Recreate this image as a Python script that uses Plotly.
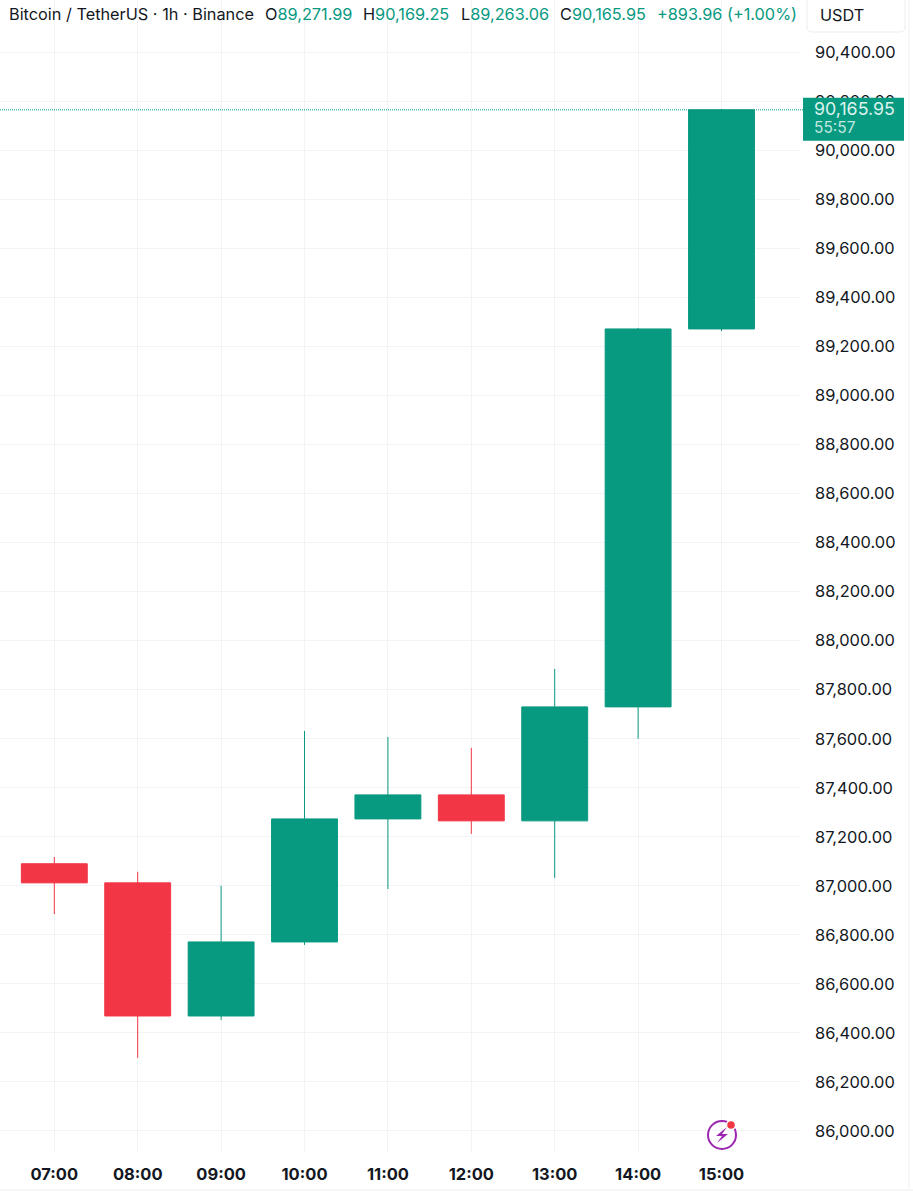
import plotly.graph_objects as go

HOURS = ['07:00', '08:00', '09:00', '10:00', '11:00', '12:00', '13:00', '14:00', '15:00']
OPEN = [87090, 87012, 86469, 86771, 87273, 87371, 87265, 87730, 89271.99]
HIGH = [87118, 87057, 87000, 87632, 87607, 87563, 87885, 89276, 90169.25]
LOW = [86885, 86298, 86453, 86759, 86987, 87212, 87032, 87600, 89263.06]
CLOSE = [87012, 86469, 86771, 87273, 87371, 87265, 87730, 89271.99, 90165.95]
PRICE_TICKS = [86000, 86200, 86400, 86600, 86800, 87000, 87200, 87400, 87600, 87800, 88000, 88200,
               88400, 88600, 88800, 89000, 89200, 89400, 89600, 89800, 90000, 90200, 90400]
CHANGE = 893.96
CHANGE_PCT = 1.00
COUNTDOWN = '55:57'

WIDTH = 913
HEIGHT = 1200
PLOT_W = 800
PLOT_H = 1152
UP = '#089981'
DOWN = '#F23645'
GRID = '#F2F3F5'
TEXT = '#131722'
FONT = 'Inter'


def px(x):
    return x / PLOT_W


def py(y):
    return 1 - y / PLOT_H


def up(text):
    return f'<span style="color:{UP}">{text}</span>'


def label(x, y, text, size=16.3, color=TEXT):
    return dict(x=px(x), y=py(y), xref='paper', yref='paper', text=text, showarrow=False,
                xanchor='left', yanchor='middle', align='left', borderpad=0,
                font=dict(family=FONT, size=size, color=color))


def panel_shapes():
    shapes = [
        dict(type='line', xref='paper', yref='y', x0=0, x1=px(803), y0=CLOSE[-1], y1=CLOSE[-1],
             line=dict(color=UP, width=1, dash='1px,1px'), layer='above'),
        dict(type='rect', xref='paper', yref='y', ysizemode='pixel', yanchor=CLOSE[-1],
             x0=px(803), x1=px(904), y0=12, y1=-31, fillcolor=UP, line=dict(width=0), layer='above'),
        dict(type='path', xref='paper', yref='paper',
             path=f'M {px(807)} {py(-2)} L {px(807)} {py(27)} Q {px(807)} {py(32)} {px(812)} {py(32)} '
                  f'L {px(900)} {py(32)} Q {px(905)} {py(32)} {px(905)} {py(27)} L {px(905)} {py(-2)}',
             line=dict(color='#EBEDF0', width=1), fillcolor='white', layer='above'),
        dict(type='line', xref='paper', yref='paper', x0=px(909), x1=px(909), y0=py(0), y1=py(1190),
             line=dict(color='#F0F0F0', width=1)),
        dict(type='line', xref='paper', yref='paper', x0=0, x1=px(913), y0=py(1190), y1=py(1190),
             line=dict(color='#EEEEEE', width=1)),
        # lightning badge
        dict(type='circle', xref='paper', yref='paper', x0=px(708), x1=px(736), y0=py(1121), y1=py(1149),
             line=dict(color='#9C27B0', width=2), layer='above'),
        dict(type='path', xref='paper', yref='paper',
             path=f'M {px(727)} {py(1127)} L {px(716)} {py(1136)} L {px(722)} {py(1136)} '
                  f'L {px(717)} {py(1143)} L {px(728)} {py(1134)} L {px(722)} {py(1134)} Z',
             fillcolor='#9C27B0', line=dict(width=0), layer='above'),
        dict(type='circle', xref='paper', yref='paper', x0=px(726.5), x1=px(735.5), y0=py(1120.5), y1=py(1129.5),
             fillcolor=DOWN, line=dict(color='white', width=1.5), layer='above'),
    ]
    return shapes


def header_labels():
    sign = '+' if CHANGE >= 0 else ''
    return [
        label(8, 14, 'Bitcoin / TetherUS · 1h · Binance'),
        label(264, 14, f'O{up(f"{OPEN[-1]:,.2f}")}'),
        label(362, 14, f'H{up(f"{HIGH[-1]:,.2f}")}'),
        label(460, 14, f'L{up(f"{LOW[-1]:,.2f}")}'),
        label(559, 14, f'C{up(f"{CLOSE[-1]:,.2f}")}'),
        label(656, 14, up(f'{sign}{CHANGE:,.2f} ({sign}{CHANGE_PCT:.2f}%)')),
    ]


fig = go.Figure(go.Candlestick(
    x=HOURS, open=OPEN, high=HIGH, low=LOW, close=CLOSE,
    increasing=dict(line=dict(color=UP, width=1), fillcolor=UP),
    decreasing=dict(line=dict(color=DOWN, width=1), fillcolor=DOWN),
    whiskerwidth=0,
))

fig.update_layout(
    width=WIDTH, height=HEIGHT, showlegend=False,
    margin=dict(l=0, r=WIDTH - PLOT_W, t=0, b=HEIGHT - PLOT_H),
    paper_bgcolor='white', plot_bgcolor='white',
    boxgap=0.21, boxgroupgap=0,
    font=dict(family=FONT, color=TEXT),
    xaxis=dict(type='category', range=[-0.651, 8.941], rangeslider=dict(visible=False),
               showgrid=True, gridcolor=GRID, gridwidth=1, zeroline=False, showline=False,
               ticks='', ticklabelstandoff=10,
               tickfont=dict(family=FONT, size=16.5, color=TEXT, weight=700)),
    yaxis=dict(side='right', range=[85914, 90614], tickvals=PRICE_TICKS, tickformat=',.2f',
               showgrid=True, gridcolor=GRID, gridwidth=1, zeroline=False, showline=False,
               ticks='', ticklabelstandoff=14, tickfont=dict(family=FONT, size=16.4, color=TEXT)),
    shapes=panel_shapes(),
    annotations=header_labels() + [
        label(819, 15, 'USDT'),
        label(813, 108, f'{CLOSE[-1]:,.2f}', size=17.8, color='#DDF3EE'),
        label(813, 127, COUNTDOWN, size=15.5, color='#BFE8DF'),
    ],
)

fig.write_html("out.html", config=dict(displayModeBar=False), post_script="document.body.style.margin='0';")
